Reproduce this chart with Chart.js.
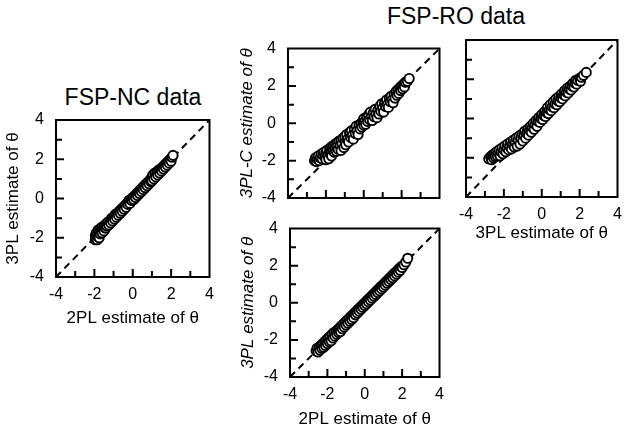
<!DOCTYPE html>
<html>
<head>
<meta charset="utf-8">
<script src="https://cdn.jsdelivr.net/npm/chart.js@4/dist/chart.umd.min.js"></script>
<style>
  html, body { margin: 0; padding: 0; background: #fff; }
  body { width: 624px; height: 431px; position: relative; overflow: hidden; font-family: "Liberation Sans", Arial, sans-serif; }
  canvas { position: absolute; }
  .ttl { position: absolute; font-size: 23px; line-height: 23px; color: #000; white-space: nowrap; transform: translateX(-50%); }
</style>
</head>
<body>
<div class="ttl" id="t1" style="left:133px; top:86px;">FSP-NC data</div>
<div class="ttl" id="t2" style="left:456px; top:5px;">FSP-RO data</div>
<canvas id="c1" width="216" height="235" style="left:0px; top:105px; width:216px; height:235px;"></canvas>
<canvas id="c2" width="214" height="180" style="left:232px; top:35px; width:214px; height:180px;"></canvas>
<canvas id="c3" width="172" height="212" style="left:452px; top:32px; width:172px; height:212px;"></canvas>
<canvas id="c4" width="214" height="216" style="left:232px; top:215px; width:214px; height:216px;"></canvas>
<script>
// ---- data ----
const tickValues = [-4, -2, 0, 2, 4];
const minorTickValues = [-3, -2, -1, 0, 1, 2, 3];
const axisMin = -4, axisMax = 4;

// FSP-NC: [2PL estimate, 3PL estimate]
const ncPoints = [
  [-1.95,-2.1],[-1.95,-1.9],[-1.9,-2.0],[-1.9,-1.75],[-1.85,-1.85],[-1.85,-2.1],[-1.8,-1.6],[-1.8,-1.95],
  [-1.75,-1.7],[-1.75,-2.0],[-1.7,-1.55],[-1.7,-1.8],[-1.65,-1.65],[-1.6,-1.45],[-1.6,-1.75],[-1.55,-1.55],
  [-1.5,-1.4],[-1.5,-1.65],[-1.45,-1.5],[-1.4,-1.3],[-1.4,-1.5],[-1.35,-1.4],[-1.3,-1.2],[-1.25,-1.35],
  [-1.2,-1.15],[-1.15,-1.25],[-1.1,-1.0],[-1.05,-1.15],[-1.0,-0.95],[-0.95,-1.05],[-0.9,-0.8],[-0.85,-0.95],
  [-0.8,-0.75],[-0.75,-0.85],[-0.7,-0.65],[-0.65,-0.75],[-0.6,-0.55],[-0.55,-0.65],[-0.5,-0.45],[-0.45,-0.55],
  [-0.4,-0.35],[-0.35,-0.45],[-0.3,-0.25],[-0.25,-0.3],[-0.2,-0.1],[-0.15,-0.25],[-0.1,-0.05],[-0.05,-0.1],
  [0.0,0.05],[0.05,-0.05],[0.1,0.15],[0.15,0.05],[0.2,0.25],[0.25,0.15],[0.3,0.35],[0.35,0.25],
  [0.4,0.45],[0.45,0.35],[0.5,0.55],[0.55,0.45],[0.6,0.65],[0.65,0.55],[0.7,0.75],[0.75,0.65],
  [0.8,0.85],[0.85,0.75],[0.9,0.95],[0.95,0.85],[1.0,1.1],[1.0,0.9],[1.05,1.2],[1.1,1.0],
  [1.15,1.3],[1.2,1.1],[1.25,1.35],[1.3,1.2],[1.35,1.45],[1.4,1.3],[1.45,1.5],[1.5,1.4],
  [1.55,1.6],[1.6,1.5],[1.65,1.7],[1.7,1.6],[1.75,1.8],[1.8,1.7],[1.85,1.9],[1.9,1.8],
  [1.95,2.0],[2.0,1.9],[2.05,2.1],[2.1,2.2]
];

// FSP-RO: [2PL estimate, 3PL-C estimate]
const roCvs2Points = [
  [-2.6,-2.0],[-2.55,-1.85],[-2.5,-2.05],[-2.45,-1.9],[-2.4,-1.75],[-2.35,-2.0],[-2.3,-1.85],[-2.25,-1.65],
  [-2.2,-1.9],[-2.15,-1.7],[-2.1,-1.55],[-2.05,-1.8],[-2.0,-1.95],[-2.0,-1.6],[-1.95,-1.45],[-1.9,-1.7],
  [-1.85,-1.9],[-1.8,-1.35],[-1.8,-1.6],[-1.75,-1.5],[-1.7,-1.25],[-1.7,-1.75],[-1.65,-1.45],[-1.6,-1.2],
  [-1.55,-1.55],[-1.5,-1.1],[-1.5,-1.35],[-1.45,-1.5],[-1.4,-1.05],[-1.4,-1.25],[-1.35,-1.4],[-1.3,-0.95],
  [-1.25,-1.2],[-1.2,-1.45],[-1.2,-0.9],[-1.15,-1.1],[-1.1,-0.8],[-1.05,-1.3],[-1.0,-0.95],[-1.0,-0.7],
  [-0.95,-1.15],[-0.9,-0.6],[-0.85,-0.85],[-0.8,-1.0],[-0.75,-0.5],[-0.7,-0.75],[-0.65,-0.4],[-0.6,-0.65],
  [-0.55,-0.85],[-0.5,-0.3],[-0.45,-0.55],[-0.4,-0.15],[-0.35,-0.4],[-0.3,-0.6],[-0.25,-0.1],[-0.2,-0.3],
  [-0.15,0.0],[-0.1,-0.2],[-0.05,0.1],[0.0,-0.1],[0.0,0.25],[0.05,0.1],[0.1,-0.05],[0.15,0.3],
  [0.2,0.1],[0.25,0.45],[0.3,0.2],[0.35,0.6],[0.4,0.35],[0.45,0.15],[0.5,0.55],[0.55,0.35],
  [0.6,0.75],[0.65,0.5],[0.7,0.3],[0.75,0.7],[0.8,0.5],[0.85,0.9],[0.9,0.65],[0.95,1.05],
  [1.0,0.8],[1.05,0.6],[1.1,1.1],[1.15,0.9],[1.2,1.25],[1.25,1.0],[1.3,0.85],[1.35,1.35],
  [1.4,1.15],[1.45,1.45],[1.5,1.25],[1.55,1.1],[1.6,1.55],[1.65,1.35],[1.7,1.7],[1.75,1.5],
  [1.8,1.8],[1.85,1.6],[1.9,1.9],[1.95,1.75],[2.0,2.0],[2.05,1.85],[2.1,2.1],[2.15,1.95],
  [2.2,2.2],[2.3,2.25],[2.4,2.4]
];

// FSP-RO: [3PL estimate, 3PL-C estimate]
const roCvs3Points = [
  [-2.8,-2.05],[-2.7,-1.95],[-2.65,-2.1],[-2.6,-1.85],[-2.55,-2.0],[-2.5,-1.8],[-2.45,-1.95],[-2.4,-1.7],
  [-2.35,-1.9],[-2.3,-1.75],[-2.25,-1.6],[-2.2,-1.9],[-2.15,-1.7],[-2.1,-1.5],[-2.05,-1.8],[-2.0,-1.6],
  [-1.95,-1.4],[-1.9,-1.7],[-1.85,-1.5],[-1.8,-1.3],[-1.75,-1.6],[-1.7,-1.4],[-1.65,-1.2],[-1.6,-1.55],
  [-1.55,-1.3],[-1.5,-1.1],[-1.45,-1.45],[-1.4,-1.2],[-1.35,-1.0],[-1.3,-1.4],[-1.25,-1.1],[-1.2,-0.9],
  [-1.15,-1.3],[-1.1,-1.0],[-1.05,-0.8],[-1.0,-1.15],[-0.95,-0.85],[-0.9,-0.65],[-0.85,-1.0],[-0.8,-0.75],
  [-0.75,-0.55],[-0.7,-0.85],[-0.65,-0.6],[-0.6,-0.4],[-0.55,-0.7],[-0.5,-0.45],[-0.45,-0.25],[-0.4,-0.55],
  [-0.35,-0.3],[-0.3,-0.1],[-0.25,-0.4],[-0.2,-0.15],[-0.15,0.05],[-0.1,-0.2],[-0.05,0.0],[0.0,0.2],
  [0.05,-0.05],[0.1,0.15],[0.15,0.35],[0.2,0.1],[0.25,0.3],[0.3,0.55],[0.35,0.25],[0.4,0.45],
  [0.45,0.7],[0.5,0.4],[0.55,0.6],[0.6,0.85],[0.65,0.55],[0.7,0.75],[0.75,1.0],[0.8,0.7],
  [0.85,0.9],[0.9,1.1],[0.95,0.85],[1.0,1.05],[1.05,1.25],[1.1,1.0],[1.15,1.2],[1.2,1.4],
  [1.25,1.15],[1.3,1.35],[1.35,1.55],[1.4,1.3],[1.45,1.5],[1.5,1.65],[1.55,1.45],[1.6,1.65],
  [1.65,1.8],[1.7,1.6],[1.75,1.8],[1.8,1.95],[1.85,1.75],[1.9,1.95],[2.0,2.05],[2.05,1.9],
  [2.1,2.1],[2.2,2.2],[2.35,2.35]
];

// FSP-RO: [2PL estimate, 3PL estimate]
const ro3vs2Points = [
  [-2.6,-2.6],[-2.55,-2.45],[-2.5,-2.65],[-2.45,-2.4],[-2.4,-2.55],[-2.35,-2.3],[-2.3,-2.45],[-2.25,-2.2],
  [-2.2,-2.4],[-2.15,-2.1],[-2.1,-2.3],[-2.05,-2.0],[-2.0,-2.2],[-1.95,-1.9],[-1.9,-2.1],[-1.85,-1.8],
  [-1.8,-2.05],[-1.75,-1.7],[-1.7,-1.9],[-1.65,-1.6],[-1.6,-1.8],[-1.55,-1.55],[-1.5,-1.7],[-1.45,-1.45],
  [-1.4,-1.6],[-1.35,-1.35],[-1.3,-1.55],[-1.25,-1.25],[-1.2,-1.4],[-1.15,-1.15],[-1.1,-1.3],[-1.05,-1.05],
  [-1.0,-1.2],[-0.95,-0.95],[-0.9,-1.1],[-0.85,-0.85],[-0.8,-1.0],[-0.75,-0.75],[-0.7,-0.9],[-0.65,-0.65],
  [-0.6,-0.8],[-0.55,-0.55],[-0.5,-0.65],[-0.45,-0.45],[-0.4,-0.55],[-0.35,-0.35],[-0.3,-0.45],[-0.25,-0.25],
  [-0.2,-0.35],[-0.15,-0.15],[-0.1,-0.25],[-0.05,-0.05],[0.0,-0.15],[0.05,0.05],[0.1,-0.05],[0.15,0.15],
  [0.2,0.05],[0.25,0.25],[0.3,0.15],[0.35,0.35],[0.4,0.25],[0.45,0.45],[0.5,0.35],[0.55,0.55],
  [0.6,0.45],[0.65,0.65],[0.7,0.55],[0.75,0.75],[0.8,0.65],[0.85,0.85],[0.9,0.75],[0.95,0.95],
  [1.0,0.85],[1.05,1.05],[1.1,0.95],[1.15,1.15],[1.2,1.05],[1.25,1.25],[1.3,1.15],[1.35,1.35],
  [1.4,1.25],[1.45,1.45],[1.5,1.35],[1.55,1.55],[1.6,1.45],[1.65,1.65],[1.7,1.55],[1.75,1.75],
  [1.8,1.65],[1.85,1.85],[1.9,1.75],[1.95,1.95],[2.0,1.9],[2.1,2.05],[2.2,2.2],[2.3,2.4]
];

// ---- helpers ----
const FONT = '"Liberation Sans", Arial, sans-serif';
function pts(pairs) { return pairs.map(p => ({ x: p[0], y: p[1] })); }

const frameTicks = {
  id: 'frameTicks',
  afterDraw(chart) {
    const ctx = chart.ctx;
    const xs = chart.scales.x, ys = chart.scales.y;
    const L = chart.chartArea.left, R = chart.chartArea.right, T = chart.chartArea.top, B = chart.chartArea.bottom;
    ctx.save();
    ctx.setLineDash([]);
    ctx.strokeStyle = '#000';
    ctx.lineWidth = 2;
    ctx.beginPath();
    ctx.rect(L, T, R - L, B - T);
    ctx.stroke();
    ctx.lineWidth = 2;
    for (let i = 0; i < minorTickValues.length; i++) {
      const v = minorTickValues[i];
      const len = (Math.abs(v) % 2 === 0) ? 8 : 6;
      const px = xs.getPixelForValue(v);
      const py = ys.getPixelForValue(v);
      ctx.beginPath();
      ctx.moveTo(px, B);
      ctx.lineTo(px, B - len);
      ctx.moveTo(L, py);
      ctx.lineTo(L + len, py);
      ctx.stroke();
    }
    ctx.restore();
  }
};

function makeChart(id, pairs, o) {
  const tickFont = { family: FONT, size: 16 };
  const titleFont = (it) => ({ family: FONT, size: 17, style: it ? 'italic' : 'normal' });
  return new Chart(document.getElementById(id), {
    data: {
      datasets: [
        {
          type: 'scatter',
          data: pts(pairs),
          order: 0,
          pointRadius: 4.6,
          pointBorderWidth: 1.9,
          pointBackgroundColor: '#fff',
          pointBorderColor: '#000'
        },
        {
          type: 'line',
          data: [{ x: axisMin, y: axisMin }, { x: axisMax, y: axisMax }],
          order: 1,
          borderColor: '#000',
          borderWidth: 2,
          borderDash: [7, 5],
          pointRadius: 0,
          fill: false
        }
      ]
    },
    options: {
      responsive: false,
      animation: false,
      events: [],
      layout: { padding: { top: o.padTop, right: o.padRight, left: 0, bottom: 0 } },
      plugins: { legend: { display: false }, tooltip: { enabled: false }, title: { display: false } },
      scales: {
        x: {
          type: 'linear', position: 'bottom', min: axisMin, max: axisMax,
          grid: { display: false }, border: { display: false },
          ticks: {
            display: o.xTicks, stepSize: 2, autoSkip: false, maxRotation: 0, color: '#000',
            font: tickFont, padding: 0
          },
          title: {
            display: !!o.xTitle, text: o.xTitle || '', color: '#000', font: titleFont(false),
            padding: { top: 0, bottom: o.xTitlePad || 0 }
          },
          afterFit: s => { s.height = o.xH; }
        },
        y: {
          type: 'linear', position: 'left', min: axisMin, max: axisMax,
          grid: { display: false }, border: { display: false },
          ticks: {
            display: o.yTicks, stepSize: 2, autoSkip: false, color: '#000',
            font: tickFont, padding: 4
          },
          title: {
            display: !!o.yTitle, text: o.yTitle || '', color: '#000', font: titleFont(o.yItalic),
            padding: { top: o.yTitlePad || 0, bottom: 0 }
          },
          afterFit: s => { s.width = o.yW; }
        }
      }
    },
    plugins: [frameTicks]
  });
}

makeChart('c1', ncPoints, { padTop: 15, padRight: 6, yW: 56, xH: 63, xTicks: true, yTicks: true,
  xTitle: '2PL estimate of θ', xTitlePad: 11, yTitle: '3PL estimate of θ', yTitlePad: 3, yItalic: false });
makeChart('c2', roCvs2Points, { padTop: 8, padRight: 4, yW: 56, xH: 17, xTicks: false, yTicks: true,
  yTitle: '3PL-C estimate of θ', yTitlePad: 5, yItalic: true });
makeChart('c3', roCvs3Points, { padTop: 8, padRight: 3, yW: 14, xH: 47, xTicks: true, yTicks: false,
  xTitle: '3PL estimate of θ', xTitlePad: 0 });
makeChart('c4', ro3vs2Points, { padTop: 9, padRight: 4, yW: 58, xH: 54, xTicks: true, yTicks: true,
  xTitle: '2PL estimate of θ', xTitlePad: 1, yTitle: '3PL estimate of θ', yTitlePad: 6, yItalic: true });
</script>
</body>
</html>
